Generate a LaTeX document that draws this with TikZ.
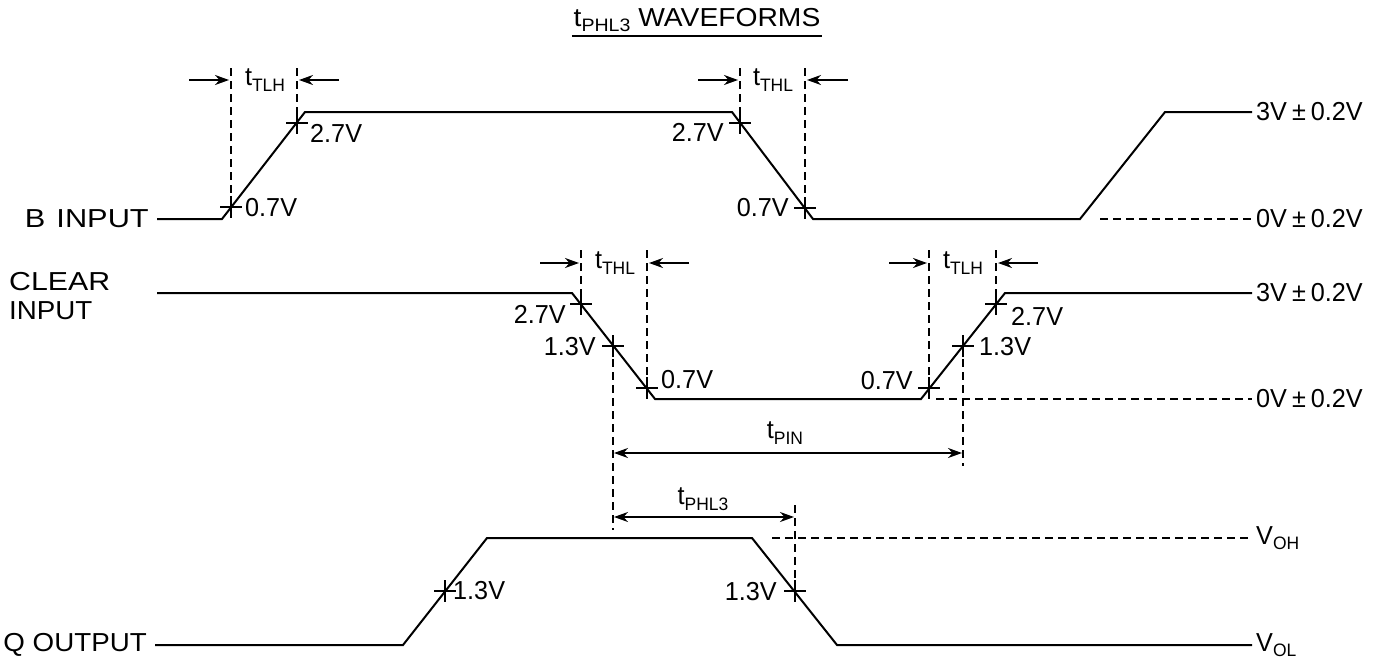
\documentclass[tikz,border=0pt]{standalone}
\usepackage{fontspec}
\setmainfont{Liberation Sans}[FakeStretch=0.97]
\usetikzlibrary{arrows.meta}
\newcommand\sbs[1]{\raisebox{-5.5pt}{\fontsize{18}{18}\selectfont #1}}
\newcommand\pmv[1]{#1V\hspace{5pt}±\hspace{5pt}0.2V}
\begin{document}
\begin{tikzpicture}[x=1pt,y=-1pt,
 wave/.style={line width=2pt,line join=miter},
 dsh/.style={line width=2pt,dash pattern=on 8pt off 5pt},
 lbl/.style={inner sep=0pt,font=\fontsize{26}{29}\selectfont},
 arr/.style={line width=2pt,-{Stealth[length=14pt,width=10pt]}},
 darr/.style={line width=2pt,{Stealth[length=14pt,width=10pt]}-{Stealth[length=14pt,width=10pt]}},
 tk/.pic={\draw[line width=1.8pt] (-11,0)--(11,0) (0,-11)--(0,11);}]
\useasboundingbox (0,0) rectangle (1375,659);

% title
\node[lbl,inner sep=1.5pt] (title) at (697,20) {\scalebox{1.12}[1]{t\sbs{PHL3} WAVEFORMS}};
\draw[line width=1.8pt] ([yshift=-2pt]title.south west) -- ([yshift=-2pt]title.south east);

% ---------------- B INPUT ----------------
\node[lbl,anchor=east] (bname) at (149,219) {\scalebox{1.22}[1]{B\hspace{9pt}INPUT}};
\coordinate (b0) at (157,219);
\coordinate (b1) at (222,219);
\coordinate (b2) at (305,112);
\coordinate (b3) at (732,112);
\coordinate (b4) at (813,219);
\coordinate (b5) at (1080,219);
\coordinate (b6) at (1165,112);
\coordinate (b7) at (1252,112);
\coordinate (bd0) at (1100,219);
\coordinate (bd1) at (1252,219);
\draw[wave] (b0)--(b1)--(b2)--(b3)--(b4)--(b5)--(b6)--(b7);
\draw[dsh] (bd0)--(bd1);
\node[lbl,anchor=west] (bhi) at (1256,112) {\pmv{3}};
\node[lbl,anchor=west] (blo) at (1256,219) {\pmv{0}};

\coordinate (bt1) at (231,207);
\coordinate (bt2) at (297,123);
\coordinate (bt3) at (740,123);
\coordinate (bt4) at (805,208);
\pic at (bt1) {tk};
\pic at (bt2) {tk};
\pic at (bt3) {tk};
\pic at (bt4) {tk};
\node[lbl,anchor=west] (bl1) at (245,208) {0.7V};
\node[lbl,anchor=west] (bl2) at (310,133) {2.7V};
\node[lbl,anchor=east] (bl3) at (724,132) {2.7V};
\node[lbl,anchor=east] (bl4) at (789,208) {0.7V};

\coordinate (bv1) at (231,68);
\coordinate (bv2) at (297,68);
\coordinate (bv3) at (740,68);
\coordinate (bv4) at (805,68);
\draw[dsh] (bv1)--(bt1);
\draw[dsh] (bv2)--(bt2);
\draw[dsh] (bv3)--(bt3);
\draw[dsh] (bv4)--(bt4);

\coordinate (ba1) at (189,80);
\coordinate (ba1e) at (229,80);
\coordinate (ba2) at (339,80);
\coordinate (ba2e) at (299,80);
\draw[arr] (ba1)--(ba1e);
\draw[arr] (ba2)--(ba2e);
\node[lbl] (btlh) at (265,80) {t\sbs{TLH}};
\coordinate (ba3) at (698,80);
\coordinate (ba3e) at (738,80);
\coordinate (ba4) at (848,80);
\coordinate (ba4e) at (807,80);
\draw[arr] (ba3)--(ba3e);
\draw[arr] (ba4)--(ba4e);
\node[lbl] (bthl) at (773,80) {t\sbs{THL}};

% ---------------- CLEAR INPUT ----------------
\node[lbl,anchor=west,align=left] (cname) at (9,296) {\scalebox{1.2}[1]{CLEAR}\\\scalebox{1.1}[1]{INPUT}};
\coordinate (c0) at (157,293);
\coordinate (c1) at (572,293);
\coordinate (c2) at (655,399);
\coordinate (c3) at (921,399);
\coordinate (c4) at (1005,293);
\coordinate (c5) at (1252,293);
\coordinate (cd0) at (936,399);
\coordinate (cd1) at (1252,399);
\draw[wave] (c0)--(c1)--(c2)--(c3)--(c4)--(c5);
\draw[dsh] (cd0)--(cd1);
\node[lbl,anchor=west] (chi) at (1256,293) {\pmv{3}};
\node[lbl,anchor=west] (clo) at (1256,399) {\pmv{0}};

\coordinate (ct1) at (581,304);
\coordinate (ct2) at (613,346);
\coordinate (ct3) at (647,388);
\coordinate (ct4) at (929,388);
\coordinate (ct5) at (963,346);
\coordinate (ct6) at (996,304);
\foreach \t in {ct1,ct2,ct3,ct4,ct5,ct6} {\pic at (\t) {tk};}
\node[lbl,anchor=east] (cl1) at (566,314) {2.7V};
\node[lbl,anchor=east] (cl2) at (596,347) {1.3V};
\node[lbl,anchor=west] (cl3) at (661,380) {0.7V};
\node[lbl,anchor=east] (cl4) at (913,381) {0.7V};
\node[lbl,anchor=west] (cl5) at (979,347) {1.3V};
\node[lbl,anchor=west] (cl6) at (1011,316) {2.7V};

\coordinate (cv1) at (581,250);
\coordinate (cv3) at (647,250);
\coordinate (cv4) at (929,250);
\coordinate (cv6) at (996,250);
\coordinate (cv2) at (613,530);
\coordinate (cv5) at (963,466);
\draw[dsh] (cv1)--(ct1);
\draw[dsh] (cv3)--(ct3);
\draw[dsh] (cv4)--(ct4);
\draw[dsh] (cv6)--(ct6);
\draw[dsh] (ct2)--(cv2);
\draw[dsh] (ct5)--(cv5);

\coordinate (ca1) at (540,263);
\coordinate (ca1e) at (579,263);
\coordinate (ca2) at (689,263);
\coordinate (ca2e) at (649,263);
\draw[arr] (ca1)--(ca1e);
\draw[arr] (ca2)--(ca2e);
\node[lbl] (cthl) at (615,263) {t\sbs{THL}};
\coordinate (ca3) at (889,263);
\coordinate (ca3e) at (927,263);
\coordinate (ca4) at (1038,263);
\coordinate (ca4e) at (998,263);
\draw[arr] (ca3)--(ca3e);
\draw[arr] (ca4)--(ca4e);
\node[lbl] (ctlh) at (963,263) {t\sbs{TLH}};

% t_PIN
\coordinate (p0) at (614,453);
\coordinate (p1) at (962,453);
\draw[darr] (p0)--(p1);
\node[lbl] (tpin) at (785,433) {t\sbs{PIN}};

% ---------------- Q OUTPUT ----------------
\node[lbl,anchor=east] (qname) at (147,645) {\scalebox{1.1}[1]{Q OUTPUT}};
\coordinate (q0) at (155,645);
\coordinate (q1) at (403,645);
\coordinate (q2) at (487,538);
\coordinate (q3) at (752,538);
\coordinate (q4) at (837,645);
\coordinate (q5) at (1252,645);
\draw[wave] (q0)--(q1)--(q2)--(q3)--(q4)--(q5);
\coordinate (qd0) at (772,538);
\coordinate (qd1) at (1252,538);
\draw[dsh] (qd0)--(qd1);
\node[lbl,anchor=west] (voh) at (1256,538) {V\sbs{OH}};
\node[lbl,anchor=west] (vol) at (1256,645) {V\sbs{OL}};

\coordinate (qt1) at (445,591);
\coordinate (qt2) at (795,591);
\pic at (qt1) {tk};
\pic at (qt2) {tk};
\node[lbl,anchor=west] (ql1) at (453,591) {1.3V};
\node[lbl,anchor=east] (ql2) at (777,592) {1.3V};
\coordinate (qv2) at (795,505);
\draw[dsh] (qv2)--(qt2);

% t_PHL3
\coordinate (h0) at (614,517);
\coordinate (h1) at (794,517);
\draw[darr] (h0)--(h1);
\node[lbl] (tphl) at (703,499) {t\sbs{PHL3}};
\end{tikzpicture}
\end{document}
